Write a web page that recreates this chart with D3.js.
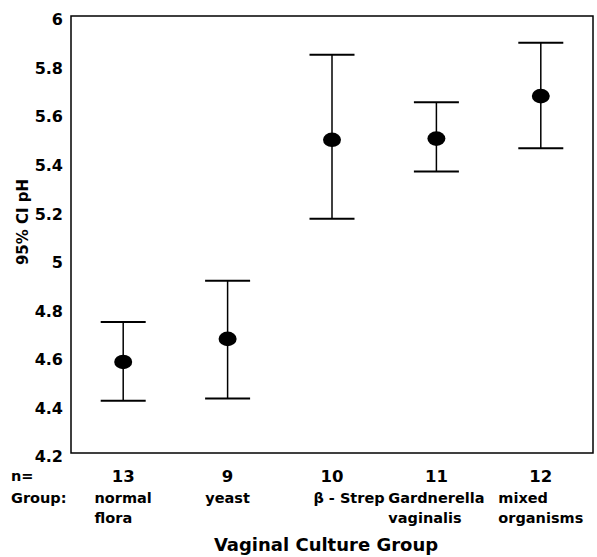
<!DOCTYPE html>
<html>
<head>
<meta charset="utf-8">
<script src="https://cdn.jsdelivr.net/npm/d3@7"></script>
<style>
  body { margin: 0; background: #fff; }
  svg text { font-family: "DejaVu Sans", sans-serif; font-weight: bold; fill: #000; }
</style>
</head>
<body>
<div id="chart"></div>
<script>
// groups, sample sizes, mean pH and 95% CI bounds
const groupNames = [["normal", "flora"], ["yeast"], ["\u03B2 - Strep"], ["Gardnerella", "vaginalis"], ["mixed", "organisms"]];
const nValues = [13, 9, 10, 11, 12];
const meanPH = [4.575, 4.67, 5.49, 5.495, 5.67];
const upperCI = [4.74, 4.91, 5.84, 5.645, 5.89];
const lowerCI = [4.415, 4.425, 5.165, 5.36, 5.455];
const yTicks = [4.2, 4.4, 4.6, 4.8, 5, 5.2, 5.4, 5.6, 5.8, 6];

(function() {
  const width = 597, height = 557;
  const margin = { top: 16, right: 4, bottom: 104, left: 71 };
  const font = "'DejaVu Sans', sans-serif";

  const svg = d3.select("#chart").append("svg").attr("width", width).attr("height", height);

  const x = d3.scaleBand().domain(d3.range(nValues.length))
    .range([margin.left, width - margin.right]);
  const y = d3.scaleLinear().domain([4.2, 6]).range([height - margin.bottom, margin.top]);
  const cx = i => x(i) + x.bandwidth() / 2;

  // frame
  svg.append("rect")
    .attr("x", margin.left).attr("y", margin.top)
    .attr("width", width - margin.left - margin.right)
    .attr("height", height - margin.top - margin.bottom)
    .attr("fill", "none").attr("stroke", "#000").attr("stroke-width", 1.5);

  // y tick labels (no tick marks in the original)
  const yAxis = d3.axisLeft(y).tickValues(yTicks).tickSize(0).tickPadding(8)
    .tickFormat(d => String(+d.toFixed(1)));
  const ya = svg.append("g").attr("transform", `translate(${margin.left},0)`).call(yAxis);
  ya.attr("font-family", font).attr("font-weight", "bold");
  ya.select(".domain").remove();
  ya.selectAll("text").attr("font-size", 16).attr("dy", "0.55em").attr("fill", "#000");

  svg.append("text")
    .attr("transform", "translate(28, 222) rotate(-90)")
    .attr("text-anchor", "middle").attr("font-size", 15).text("95% CI pH");

  // error bars
  const cap = 22.5;
  const g = svg.append("g");
  nValues.forEach((n, i) => {
    const c = cx(i);
    g.append("line").attr("x1", c).attr("x2", c).attr("y1", y(upperCI[i])).attr("y2", y(lowerCI[i]))
      .attr("stroke", "#000").attr("stroke-width", 1.5);
    [upperCI[i], lowerCI[i]].forEach(v => {
      g.append("line").attr("x1", c - cap).attr("x2", c + cap).attr("y1", y(v)).attr("y2", y(v))
        .attr("stroke", "#000").attr("stroke-width", 2);
    });
    g.append("ellipse").attr("cx", c).attr("cy", y(meanPH[i])).attr("rx", 9).attr("ry", 7.3).attr("fill", "#000");
  });

  // n= and group labels
  const base = height - margin.bottom;
  svg.append("text").attr("x", 11).attr("y", base + 28).attr("font-size", 14.5).text("n=");
  svg.append("text").attr("x", 11).attr("y", base + 50).attr("font-size", 14.5).text("Group:");

  nValues.forEach((n, i) => {
    svg.append("text").attr("x", cx(i)).attr("y", base + 29).attr("text-anchor", "middle")
      .attr("font-size", 16.5).text(n);
    const block = svg.append("g");
    const lines = groupNames[i].map((s, k) => block.append("text")
      .attr("y", base + 50 + k * 20).attr("font-size", 14.5).text(s));
    const w = d3.max(lines, t => t.node().getComputedTextLength());
    const shift = i === 2 ? 17 : 0;
    block.attr("transform", `translate(${cx(i) - w / 2 + shift},0)`);
  });

  svg.append("text").attr("x", 326).attr("y", base + 98).attr("text-anchor", "middle")
    .attr("font-size", 18).text("Vaginal Culture Group");
})();
</script>
</body>
</html>
